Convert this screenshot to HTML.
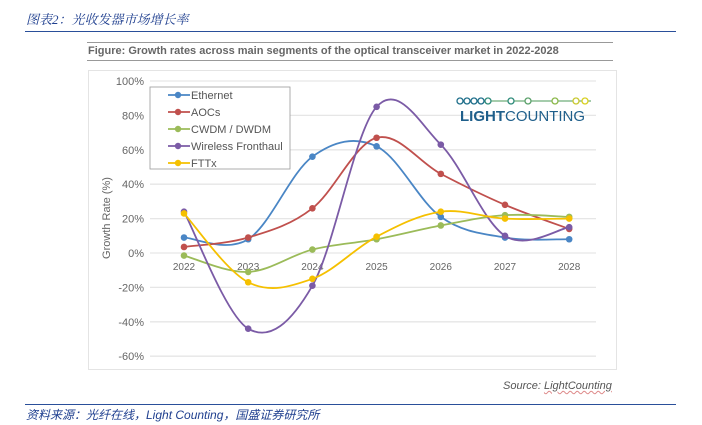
<!DOCTYPE html>
<html><head><meta charset="utf-8"><style>
body{margin:0;width:702px;height:425px;background:#fff;position:relative;overflow:hidden;font-family:"Liberation Sans","Noto Sans CJK SC",sans-serif}
.a{position:absolute}
</style></head><body>
<div class="a" style="left:26px;top:9px;font-size:13px;font-style:italic;color:#1f3f8f;font-family:'Liberation Serif','Noto Serif CJK SC',serif">图表2：光收发器市场增长率</div>
<div class="a" style="left:25px;top:31px;width:651px;height:1px;background:#2a4f9a"></div>
<div class="a" style="left:87px;top:42px;width:526px;height:17px;border-top:1px solid #999;border-bottom:1px solid #999"></div>
<div class="a" style="left:88px;top:45px;font-size:11px;font-weight:bold;color:#666;white-space:nowrap">Figure: Growth rates across main segments of the optical transceiver market in 2022-2028</div>
<div class="a" style="left:88px;top:70px;width:527px;height:298px;border:1px solid #e4e4e4"></div>
<svg class="a" style="left:0;top:0" width="702" height="425" id="chart"></svg>
<div class="a" style="left:503px;top:380px;font-size:11px;font-style:italic;color:#555">Source: <span style="text-decoration:underline wavy #d88;text-decoration-thickness:1px">LightCounting</span></div>
<div class="a" style="left:25px;top:404px;width:651px;height:1px;background:#2a4f9a"></div>
<div class="a" style="left:26px;top:406px;font-size:12px;font-style:italic;color:#1f3f8f">资料来源：光纤在线，Light Counting，国盛证券研究所</div>
<script>
const years=['2022','2023','2024','2025','2026','2027','2028'];
const yTicks=[100,80,60,40,20,0,-20,-40,-60];
const seriesNames=['Ethernet','AOCs','CWDM / DWDM','Wireless Fronthaul','FTTx'];
const ethernet=[9,8,56,62,21,9,8];
const aocs=[3.5,9,26,67,46,28,14];
const cwdm=[-1.5,-11,2,8,16,22,21];
const wireless=[24,-44,-19,85,63,10,15];
const fttx=[23,-17,-15,9.5,24,20,20];
const colors=['#4a86c5','#c0504d','#9bbb59','#7b5ba6','#f5c000'];
const svg=document.getElementById('chart');const NS='http://www.w3.org/2000/svg';
const X=i=>184+i*64.2;const Y=v=>253-v*1.72;
function mk(t,a,p){const e=document.createElementNS(NS,t);for(const k in a)e.setAttribute(k,a[k]);(p||svg).appendChild(e);return e;}
yTicks.forEach(v=>{
 const g=mk('line',{x1:150,x2:596,y1:Y(v),y2:Y(v),stroke:'#e6e6e6','stroke-width':1.3});
 
 
 const t=mk('text',{x:144,y:Y(v)+4,'text-anchor':'end','font-size':11,fill:'#666','font-family':'Liberation Sans'});t.textContent=v+'%';
 
 
});
years.forEach((y,i)=>{const t=mk('text',{x:X(i),y:270,'text-anchor':'middle','font-size':10,fill:'#666','font-family':'Liberation Sans'});t.textContent=y;
 
 });
const yt=mk('text',{x:0,y:0,transform:'translate(110,218) rotate(-90)','text-anchor':'middle','font-size':11,fill:'#666','font-family':'Liberation Sans'});yt.textContent='Growth Rate (%)';


function path(vals){const p=vals.map((v,i)=>[X(i),Y(v)]);let d='M'+p[0][0]+','+p[0][1];
 for(let i=0;i<p.length-1;i++){const p0=p[i-1]||p[i],p1=p[i],p2=p[i+1],p3=p[i+2]||p2;const k=0.17;
 d+=` C${p1[0]+(p2[0]-p0[0])*k},${p1[1]+(p2[1]-p0[1])*k} ${p2[0]-(p3[0]-p1[0])*k},${p2[1]-(p3[1]-p1[1])*k} ${p2[0]},${p2[1]}`;}return d;}
[ethernet,aocs,cwdm,wireless,fttx].forEach((s,j)=>{
 const l=mk('path',{d:path(s),fill:'none',stroke:colors[j],'stroke-width':1.8});
 
 
 s.forEach((v,i)=>{const c=mk('circle',{cx:X(i),cy:Y(v),r:3.3,fill:colors[j]});
 
 });
});
const lb=mk('rect',{x:150,y:87,width:140,height:82,fill:'#fff',stroke:'#999','stroke-width':0.8});


seriesNames.forEach((n,j)=>{const y=95+j*17;
 mk('line',{x1:168,x2:190,y1:y,y2:y,stroke:colors[j],'stroke-width':1.8});
 mk('circle',{cx:178,cy:y,r:3.2,fill:colors[j]});
 const t=mk('text',{x:191,y:y+4,'font-size':11,fill:'#555','font-family':'Liberation Sans'});t.textContent=n;
 
 });
const lg=mk('g',{});

mk('line',{x1:457,x2:591,y1:101,y2:101,stroke:'#6fae7a','stroke-width':1.2},lg);
[460,467,474,481,488,511,528,555,576,585].forEach((x,i)=>mk('circle',{cx:x,cy:101,r:3,fill:'#fff',stroke:['#1f6f8b','#1f6f8b','#1f6f8b','#1f6f8b','#2e8b7a','#2e8b7a','#5aa06a','#8bb84a','#c8c830','#d8d020'][i],'stroke-width':1.3},lg));
const lt=mk('text',{x:460,y:121,'font-size':15,fill:'#1f5f8b','font-family':'Liberation Sans'},lg);
lt.innerHTML='<tspan font-weight="bold">LIGHT</tspan>COUNTING';
</script>
</body></html>
